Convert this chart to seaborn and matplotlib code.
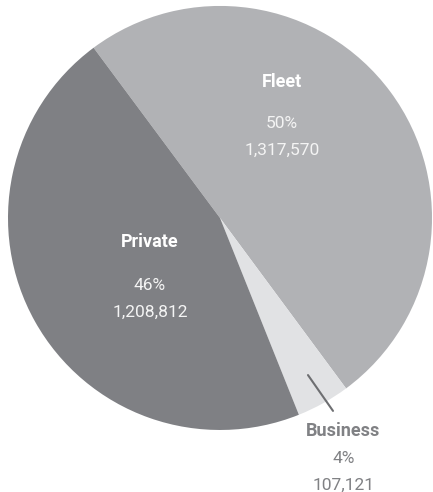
import matplotlib
matplotlib.use("Agg")
import matplotlib.pyplot as plt
import seaborn as sns

# slice data, clockwise from the upper-left boundary
labels = ["Fleet", "Business", "Private"]
values = [1317570, 107121, 1208812]
pct_labels = ["50%", "4%", "46%"]
count_labels = ["1,317,570", "107,121", "1,208,812"]
colors = ["#b1b2b5", "#e1e2e4", "#7f8084"]

sns.set_theme(style="white")
plt.rcParams["font.family"] = ["Roboto", "DejaVu Sans"]

fig = plt.figure(figsize=(4.33, 4.92), dpi=100)
ax = fig.add_axes([0, 0, 1, 1])

ax.pie(values, colors=colors, startangle=126.6, counterclock=False,
       wedgeprops=dict(linewidth=0))

ax.set_xlim(-1.0377, 1.0047)
ax.set_ylim(-1.2925, 1.028)
ax.set_aspect("auto")
ax.axis("off")

# label baselines (data units, radius = 1): name, percent, count
pos = {
    "Fleet": (0.2925, [0.618, 0.4245, 0.297]),
    "Private": (-0.330, [-0.137, -0.340, -0.467]),
    "Business": (0.5825, [-1.028, -1.156, -1.281]),
}
for i, name in enumerate(labels):
    x, ys = pos[name]
    c = "#808184" if name == "Business" else "white"
    c2 = "#808184" if name == "Business" else "#f4f4f4"
    ax.text(x, ys[0], name, ha="center", va="baseline", fontsize=13,
            fontweight="bold", color=c)
    ax.text(x, ys[1], pct_labels[i], ha="center", va="baseline", fontsize=12.5,
            color=c2)
    ax.text(x, ys[2], count_labels[i], ha="center", va="baseline", fontsize=12.5,
            color=c2)

# leader line for Business
ax.plot([0.415, 0.533], [-0.741, -0.910], color="#6d6e71", linewidth=1.5)

fig.savefig("out.png", dpi=100, facecolor="white")
